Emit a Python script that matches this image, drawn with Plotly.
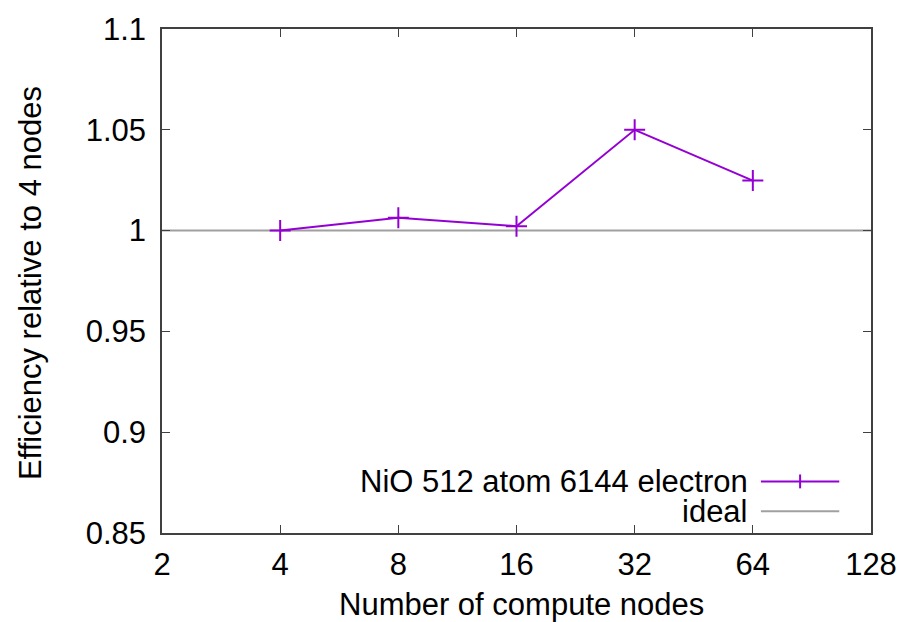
import plotly.graph_objects as go

nodes = [4, 8, 16, 32, 64]
efficiency = [1.0, 1.0064, 1.0022, 1.0500, 1.0248]
ideal_x = [2, 128]
ideal_y = [1.0, 1.0]
x_ticks = [2, 4, 8, 16, 32, 64, 128]
y_ticks = [0.85, 0.9, 0.95, 1.0, 1.05, 1.1]
y_tick_text = ["0.85", "0.9", "0.95", "1", "1.05", "1.1"]
series_name = "NiO 512 atom 6144 electron"
ideal_name = "ideal"

PURPLE = "#9400D3"
GRAY = "#a0a0a0"
FONT = "Liberation Sans, Arial, sans-serif"
FS = 31

W, H = 909, 622
L, R, T, B = 162, 877, 25, 533

def px(x):
    return (x - L) / (R - L)

def py(y):
    return (B - y) / (B - T)

fig = go.Figure()
fig.add_trace(go.Scatter(x=ideal_x, y=ideal_y, mode="lines",
                         line=dict(color=GRAY, width=2), name=ideal_name,
                         showlegend=False))
fig.add_trace(go.Scatter(x=nodes, y=efficiency, mode="lines+markers",
                         line=dict(color=PURPLE, width=2),
                         marker=dict(symbol="cross-thin", size=15,
                                     line=dict(color=PURPLE, width=2)),
                         name=series_name, showlegend=False))

axis_common = dict(showline=True, mirror="allticks", linecolor="#404040",
                   linewidth=1.5, ticks="inside", ticklen=8, tickwidth=1,
                   tickcolor="#404040", showgrid=False, zeroline=False,
                   tickfont=dict(family=FONT, size=FS, color="black"))

fig.update_xaxes(type="log", range=[0.30103, 2.10721], tickvals=x_ticks,
                 ticktext=[str(v) for v in x_ticks], ticklabelstandoff=3,
                 **axis_common)
fig.update_yaxes(range=[0.85, 1.1], tickvals=y_ticks, ticktext=y_tick_text,
                 ticklabelstandoff=8, **axis_common)

annotations = [
    dict(text="Number of compute nodes", x=px(525), y=py(605), xref="paper",
         yref="paper", showarrow=False, xanchor="center", yanchor="middle",
         font=dict(family=FONT, size=FS, color="black")),
    dict(text="Efficiency relative to 4 nodes", x=px(30), y=py(281),
         xref="paper", yref="paper", showarrow=False, textangle=-90,
         xanchor="center", yanchor="middle",
         font=dict(family=FONT, size=FS, color="black")),
    dict(text=series_name, x=px(754), y=py(481), xref="paper", yref="paper",
         showarrow=False, xanchor="right", yanchor="middle", height=28,
         valign="middle", borderpad=0,
         font=dict(family=FONT, size=FS, color="black")),
    dict(text=ideal_name, x=px(754), y=py(511), xref="paper", yref="paper",
         showarrow=False, xanchor="right", yanchor="middle", height=28,
         valign="middle", borderpad=0,
         font=dict(family=FONT, size=FS, color="black")),
]

shapes = [
    dict(type="line", xref="paper", yref="paper", x0=px(766), x1=px(845),
         y0=py(481), y1=py(481), line=dict(color=PURPLE, width=2)),
    dict(type="line", xref="paper", yref="paper", x0=px(805.5), x1=px(805.5),
         y0=py(474), y1=py(488), line=dict(color=PURPLE, width=2)),
    dict(type="line", xref="paper", yref="paper", x0=px(766), x1=px(845),
         y0=py(511), y1=py(511), line=dict(color=GRAY, width=2)),
]

fig.update_layout(width=W, height=H, autosize=False,
                  margin=dict(l=L, r=W - R, t=T, b=H - B),
                  plot_bgcolor="white", paper_bgcolor="white",
                  showlegend=False, annotations=annotations, shapes=shapes)

fig.write_html("out.html")
